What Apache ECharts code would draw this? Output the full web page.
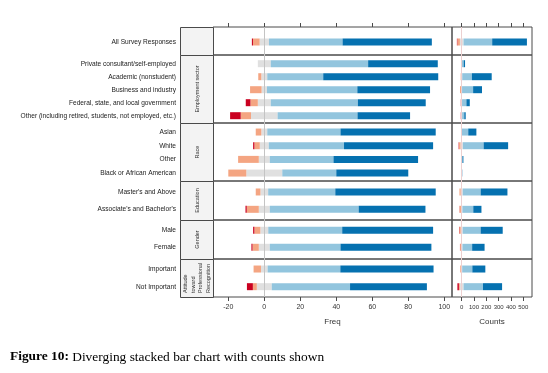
<!DOCTYPE html>
<html><head><meta charset="utf-8">
<script src="https://cdn.jsdelivr.net/npm/echarts@6/dist/echarts.min.js"></script>
<style>html,body{margin:0;padding:0;background:#fff}#c{width:548px;height:373px}</style>
</head><body><div id="c"></div>
<script>
// ---- data ----
const categories = [
  "All Survey Responses",
  "Private consultant/self-employed",
  "Academic (nonstudent)",
  "Business and industry",
  "Federal, state, and local government",
  "Other (including retired, students, not employed, etc.)",
  "Asian",
  "White",
  "Other",
  "Black or African American",
  "Master's and Above",
  "Associate's and Bachelor's",
  "Male",
  "Female",
  "Important",
  "Not Important"
];
const groupOf = [0, 1,1,1,1,1, 2,2,2,2, 3,3, 4,4, 5,5];
const groupNames = ["", "Employment sector", "Race", "Education", "Gender", "Attitude\ntoward\nProfessional\nRecognition"];
// percentages (Freq)
const stronglyDisagree = [0.6, 0, 0, 0, 2.6, 5.9, 0, 0.7, 0, 0, 0, 0.7, 0.7, 0.6, 0, 3.3];
const disagree         = [3.7, 0, 1.7, 6.4, 4.1, 5.7, 3.1, 3.0, 11.5, 10, 2.6, 6.7, 3.3, 3.5, 4.1, 2.2];
const neutral          = [5.2, 7.2, 3.3, 3.0, 7.2, 14.8, 3.3, 5.0, 6.1, 20, 4.3, 6.1, 4.4, 6.1, 3.7, 8.3];
const agree            = [40.9, 54.1, 31.1, 50.2, 48.4, 44.4, 40.7, 41.8, 35.4, 30, 37.3, 49.4, 41.1, 39.3, 40.4, 43.5];
const stronglyAgree    = [49.6, 38.7, 63.9, 40.4, 37.7, 29.2, 52.9, 49.5, 47.0, 40, 55.8, 37.1, 50.5, 50.5, 51.8, 42.7];
// respondents per row (Counts)
const counts = [569, 28, 252, 179, 73, 40, 125, 402, 16, 5, 390, 179, 355, 200, 204, 363];
const freqTicks = [-20, 0, 20, 40, 60, 80, 100];
const countTicks = [0, 100, 200, 300, 400, 500];

// ---- layout ----
const chart = echarts.init(document.getElementById('c'), null, {renderer: 'canvas'});
const panelTop = [27, 55, 123, 181, 220, 259];
const panelH = [28, 68, 58, 39, 39, 38];
const rowTop = [35.5, 57.2, 125.2, 183.3, 221.8, 260.2];
const rowH = [13, 65, 54.7, 34.7, 34, 35.3];
const stripLeft = 180, stripW = 33;
const mainLeft = 213, mainW = 239, cntLeft = 452, cntW = 80;
const xRange = [[-28.5, 104.3], [-79, 571]];
const C = {sd: '#ca0020', d: '#f4a582', n: '#e0e0e0', a: '#92c5de', sa: '#0571b0'};
const font = 'Liberation Sans';
const grid = [], xAxis = [], yAxis = [], series = [], graphic = [];

for (let p = 0; p < 6; p++) {
  const idx = categories.map((c, i) => i).filter(i => groupOf[i] === p);
  const labels = idx.map(i => categories[i]);
  for (let side = 0; side < 2; side++) {
    const isTop = p === 0, isBot = p === 5;
    const ticks = side ? countTicks : freqTicks;
    const left = side ? cntLeft : mainLeft, width = side ? cntW : mainW;
    // panel frame grid (border, ticks, zero reference line)
    const fg = grid.length;
    grid.push({left, top: panelTop[p], width, height: panelH[p],
      show: true, borderColor: '#4a4a4a', borderWidth: 1, backgroundColor: 'transparent'});
    xAxis.push({type: 'value', gridIndex: fg, min: xRange[side][0], max: xRange[side][1],
      show: isTop || isBot, position: isTop ? 'top' : 'bottom',
      axisLine: {show: false, onZero: false}, splitLine: {show: false},
      axisTick: {show: isTop || isBot, customValues: ticks, length: 4, lineStyle: {color: '#4a4a4a'}},
      axisLabel: {show: isBot, customValues: ticks, margin: 7, fontSize: side ? 6 : 7, color: '#333', fontFamily: font},
      name: isBot ? (side ? 'Counts' : 'Freq') : '', nameLocation: 'middle', nameGap: 21,
      nameTextStyle: {fontSize: 8, color: '#333', fontFamily: font}});
    yAxis.push({type: 'value', gridIndex: fg, min: 0, max: 1, show: false, splitLine: {show: false}});
    series.push({type: 'line', xAxisIndex: fg, yAxisIndex: fg, data: [], silent: true, z: 1,
      markLine: {silent: true, symbol: 'none', label: {show: false}, animation: false,
        lineStyle: {color: side ? '#ecd0d0' : '#c4c4c4', width: 1, type: 'solid'},
        data: [{xAxis: 0}]}});
    // data grid (rows)
    const gi = grid.length;
    grid.push({left, top: rowTop[p], width, height: rowH[p], show: false});
    xAxis.push({type: 'value', gridIndex: gi, min: xRange[side][0], max: xRange[side][1], show: false, splitLine: {show: false}});
    yAxis.push({type: 'category', gridIndex: gi, data: labels, inverse: true,
      axisLine: {show: false}, axisTick: {show: false}, splitLine: {show: false},
      axisLabel: {show: !side, margin: 37, fontSize: 6.6, color: '#222', fontFamily: font}});
    const sc = i => side ? counts[i] / 100 : 1;
    const mk = (arr, sign, color, factor) => ({
      type: 'bar', xAxisIndex: gi, yAxisIndex: gi, stack: 's' + gi, barWidth: 7, silent: true, z: 2,
      itemStyle: {color}, data: idx.map(i => sign * arr[i] * factor * sc(i))
    });
    series.push(
      mk(neutral, -1, C.n, 0.5),
      mk(disagree, -1, C.d, 1),
      mk(stronglyDisagree, -1, C.sd, 1),
      mk(neutral, 1, C.n, 0.5),
      mk(agree, 1, C.a, 1),
      mk(stronglyAgree, 1, C.sa, 1));
  }
  // strip
  graphic.push({type: 'rect', shape: {x: stripLeft + 0.5, y: panelTop[p] + 0.5, width: stripW, height: panelH[p]},
    style: {fill: '#f3f3f3', stroke: '#4a4a4a', lineWidth: 1}, z: 0, silent: true});
  if (groupNames[p]) {
    const multi = groupNames[p].indexOf('\n') >= 0;
    graphic.push({type: 'text', x: stripLeft + stripW / 2 + 0.5,
      y: multi ? panelTop[p] + panelH[p] - 4 : panelTop[p] + panelH[p] / 2,
      rotation: Math.PI / 2, z: 5, silent: true,
      style: {text: groupNames[p], fontSize: 5.5, fontFamily: font, fill: '#333', lineHeight: 7.5,
        textAlign: multi ? 'left' : 'center', textVerticalAlign: 'middle'}});
  }
}
graphic.push({type: 'text', x: 10, y: 357, silent: true,
  style: {text: '{b|Figure 10:} Diverging stacked bar chart with counts shown',
    fontSize: 13.4, fontFamily: 'Liberation Serif', fill: '#000', textVerticalAlign: 'middle',
    rich: {b: {fontWeight: 'bold', fontSize: 13.4, fontFamily: 'Liberation Serif', fill: '#000'}}}});

chart.setOption({animation: false, backgroundColor: '#fff', grid, xAxis, yAxis, series, graphic});
</script></body></html>
